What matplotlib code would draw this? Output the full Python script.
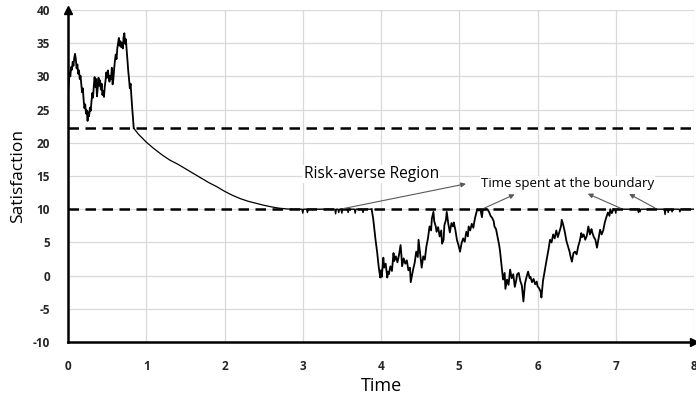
import matplotlib
matplotlib.use("Agg")
import matplotlib.pyplot as plt

plt.rcParams['font.family'] = ['Open Sans', 'DejaVu Sans']
plt.rcParams['axes.unicode_minus'] = False

# ---- data: segment 1 (random phase above upper boundary) ----
t_a = [0.00, 0.01, 0.02, 0.03, 0.04, 0.05, 0.06, 0.07, 0.08, 0.09,
       0.10, 0.11, 0.12, 0.13, 0.14, 0.15, 0.16, 0.17, 0.18, 0.19,
       0.20, 0.21, 0.22, 0.23, 0.24, 0.25, 0.26, 0.27, 0.28, 0.29,
       0.30, 0.31, 0.32, 0.33, 0.34, 0.35, 0.36, 0.37, 0.38, 0.39,
       0.40, 0.41, 0.42, 0.43, 0.44, 0.45, 0.46, 0.47, 0.48, 0.49,
       0.50, 0.51, 0.52, 0.53, 0.54, 0.55, 0.56, 0.57, 0.58, 0.59,
       0.60, 0.61, 0.62, 0.63, 0.64, 0.65, 0.66, 0.67, 0.68, 0.69,
       0.70, 0.71, 0.72, 0.73, 0.74, 0.75, 0.76, 0.77, 0.78, 0.79,
       0.80, 0.81, 0.82, 0.83, 0.84]
s_a = [27.5, 29.0, 30.6, 30.0, 31.4, 31.0, 32.2, 31.6, 32.8, 33.4,
       32.6, 31.2, 31.8, 30.4, 30.9, 29.6, 30.1, 28.8, 27.6, 28.2,
       26.4, 25.2, 25.8, 24.4, 24.9, 23.3, 24.6, 24.0, 25.3, 24.8,
       26.2, 27.5, 26.8, 28.6, 29.9, 28.4, 29.6, 27.0, 28.3, 29.8,
       28.6, 29.4, 28.0, 28.9, 27.2, 27.8, 26.9, 28.5, 29.4, 30.6,
       29.8, 30.9, 30.0, 29.2, 30.1, 29.6, 31.3, 28.8, 29.6, 31.2,
       32.4, 33.3, 32.6, 34.2, 35.0, 35.8, 34.6, 35.3, 34.4, 35.0,
       34.2, 35.9, 36.5, 34.9, 35.6, 33.9, 32.4, 30.8, 29.6, 28.2,
       28.9, 27.0, 25.3, 23.8, 22.2]

# ---- segment 2 (smooth decline towards lower boundary) ----
t_b = [0.84, 0.9, 1.0, 1.1, 1.2, 1.3, 1.4, 1.5, 1.6, 1.7, 1.8, 1.9, 2.0,
       2.1, 2.2, 2.3, 2.4, 2.5, 2.6, 2.7, 2.8, 2.85]
s_b = [22.2, 21.3, 20.1, 19.1, 18.2, 17.4, 16.8, 16.1, 15.4, 14.7, 14.0, 13.4, 12.7,
       12.1, 11.6, 11.2, 10.9, 10.6, 10.35, 10.15, 10.04, 10.0]

# ---- segment 3 (at the boundary with small excursions) ----
t_c = [2.85, 2.99, 3.00, 3.01, 3.05, 3.06, 3.07, 3.41, 3.42, 3.43, 3.45, 3.46, 3.47,
       3.49, 3.50, 3.51, 3.57, 3.58, 3.59, 3.66, 3.67, 3.68, 3.76, 3.77, 3.78, 3.88]
s_c = [10.0, 10.0, 9.4, 10.0, 10.0, 9.5, 10.0, 10.0, 9.3, 10.0, 10.0, 9.5, 10.0,
       10.0, 9.4, 10.0, 10.0, 9.5, 10.0, 10.0, 9.4, 10.0, 10.0, 9.5, 10.0, 10.0]

# ---- segment 4 (random phase below the boundary) ----
t_d = [3.88, 3.90, 3.92, 3.93, 3.95, 3.97, 3.98, 3.99, 4.00, 4.01, 4.03,
       4.04, 4.06, 4.08, 4.09, 4.10, 4.12, 4.14, 4.16, 4.17, 4.19,
       4.21, 4.23, 4.25, 4.26, 4.27, 4.29, 4.31, 4.33, 4.35, 4.37,
       4.38, 4.40, 4.41, 4.43, 4.45, 4.47, 4.48, 4.50, 4.51, 4.52,
       4.54, 4.56, 4.58, 4.60, 4.62, 4.64, 4.65, 4.67, 4.68, 4.70,
       4.71, 4.73, 4.75, 4.77, 4.78, 4.80, 4.81, 4.83, 4.84, 4.86,
       4.88, 4.90, 4.92, 4.93, 4.95, 4.97, 4.99, 5.01, 5.03, 5.05,
       5.07, 5.09, 5.11, 5.12, 5.14, 5.16, 5.18, 5.20, 5.22, 5.23,
       5.25, 5.27, 5.29, 5.30, 5.32, 5.34, 5.36, 5.38, 5.40, 5.42,
       5.44, 5.45, 5.47, 5.49, 5.51, 5.52, 5.54, 5.56, 5.58, 5.59,
       5.61, 5.63, 5.65, 5.67, 5.69, 5.71, 5.73, 5.74, 5.76, 5.78,
       5.80, 5.82, 5.84, 5.86, 5.88, 5.90, 5.91, 5.93, 5.95, 5.97,
       5.99, 6.00, 6.02, 6.04, 6.05, 6.07, 6.09, 6.10, 6.12, 6.14,
       6.16, 6.18, 6.20, 6.22, 6.24, 6.26, 6.28, 6.30, 6.31, 6.33,
       6.35, 6.37, 6.39, 6.41, 6.42, 6.44, 6.46, 6.48, 6.50, 6.52,
       6.54, 6.56, 6.57, 6.59, 6.61, 6.63, 6.65, 6.67, 6.69, 6.70,
       6.72, 6.74, 6.76, 6.78, 6.80, 6.82, 6.84, 6.86, 6.88, 6.90,
       6.92, 6.93, 6.95, 6.97]
s_d = [10.0, 8.6, 6.4, 5.4, 3.6, 1.4, 0.6, -0.3, 0.8, -0.2, 2.7,
       1.2, 1.8, -0.3, 0.6, 0.2, 1.4, 0.7, 3.4, 2.2, 2.9,
       2.0, 3.1, 4.6, 3.2, 1.4, 2.6, 1.8, 2.3, 0.8, 1.2,
       -1.0, 0.3, 0.9, 1.9, 3.6, 2.8, 5.4, 3.3, 2.2, 1.2,
       2.9, 2.4, 4.4, 5.6, 7.4, 6.8, 8.6, 9.6, 8.2, 7.4,
       6.6, 7.3, 5.9, 6.8, 4.8, 5.4, 7.6, 8.4, 9.6, 7.8,
       6.5, 7.9, 7.4, 8.0, 6.9, 5.4, 4.6, 3.6, 4.9, 5.6,
       5.1, 6.6, 5.9, 7.4, 6.8, 7.8, 7.2, 8.6, 9.5, 10.0,
       9.8, 10.0, 8.8, 9.9, 10.0, 10.0, 10.0, 9.6, 9.0, 8.7,
       8.2, 7.4, 7.0, 5.8, 4.6, 3.8, 1.6, -0.6, 0.4, -2.0,
       -0.6, -1.4, 0.9, -0.4, 0.2, -1.7, -0.6, 0.2, 0.4, -0.8,
       -1.5, -3.9, -1.2, -0.2, 0.6, -0.4, -0.2, -1.0, -0.5, -1.3,
       -0.9, -1.6, -1.9, -2.4, -3.3, -0.8, 0.6, 1.4, 2.6, 3.9,
       5.4, 5.0, 6.2, 5.6, 6.8, 5.8, 6.6, 7.4, 8.4, 7.6,
       6.5, 5.2, 4.4, 3.6, 3.0, 2.1, 3.4, 3.6, 3.2, 4.4,
       5.2, 6.4, 5.8, 6.2, 5.4, 6.0, 7.4, 6.2, 7.0, 6.5,
       5.8, 5.4, 4.2, 5.6, 6.9, 6.2, 6.8, 8.0, 8.8, 9.5,
       9.0, 10.0, 9.4, 10.0]

# ---- segment 5 (back at the boundary) ----
t_e = [6.97, 6.99, 7.00, 7.01, 7.28, 7.29, 7.30, 7.31, 7.32, 7.62, 7.63, 7.64,
       7.66, 7.67, 7.68, 7.71, 7.72, 7.73, 7.81, 7.82, 7.83, 8.00]
s_e = [10.0, 10.0, 9.4, 10.0, 10.0, 9.5, 10.0, 9.6, 10.0, 10.0, 9.2, 10.0,
       10.0, 9.5, 10.0, 10.0, 9.6, 10.0, 10.0, 9.6, 10.0, 10.0]

upper_boundary = 22.2
lower_boundary = 10.0

x_ticks = [0, 1, 2, 3, 4, 5, 6, 7, 8]
y_ticks = [-10, -5, 0, 5, 10, 15, 20, 25, 30, 35, 40]

# ---- figure ----
fig = plt.figure(figsize=(6.96, 3.96), dpi=100)
ax = fig.add_axes([68 / 696, 1 - 342 / 396, (694 - 68) / 696, (342 - 10) / 396])

ax.set_xlim(0, 8)
ax.set_ylim(-10, 40)
ax.set_xticks(x_ticks)
ax.set_yticks(y_ticks)
ax.grid(True, color='#d9d9d9', linewidth=0.9)
ax.set_axisbelow(True)

for tt, ss, lw in ((t_a, s_a, 1.3), (t_b, s_b, 0.9), (t_c, s_c, 1.0),
                   (t_d, s_d, 1.3), (t_e, s_e, 1.0)):
    ax.plot(tt, ss, color='black', linewidth=lw, zorder=3)

for yb in (upper_boundary, lower_boundary):
    ax.plot([0, 8], [yb, yb], color='black', linewidth=1.8, dashes=(4.2, 2.6), zorder=4)

for side in ('top', 'right'):
    ax.spines[side].set_visible(False)
for side in ('left', 'bottom'):
    ax.spines[side].set_linewidth(1.8)
    ax.spines[side].set_color('black')
    ax.spines[side].set_zorder(5)

# axis arrows
ax.plot(0, 1, marker='^', color='black', markersize=6, transform=ax.transAxes, clip_on=False, zorder=6)
ax.plot(1, 0, marker='>', color='black', markersize=6, transform=ax.transAxes, clip_on=False, zorder=6)

ax.tick_params(length=0, pad=13)
for lab in ax.get_xticklabels() + ax.get_yticklabels():
    lab.set_fontsize(8.5)
    lab.set_fontweight('bold')
    lab.set_color('#262626')

ax.set_xlabel('Time', fontsize=13, labelpad=3)
ax.set_ylabel('Satisfaction', fontsize=12.5, labelpad=5)

# annotations
ax.text(3.01, 15.3, 'Risk-averse Region', fontsize=11.2, ha='left', va='center',
        bbox=dict(facecolor='white', edgecolor='none', pad=1), zorder=4)
ax.text(6.38, 13.9, 'Time spent at the boundary', fontsize=9.6, ha='center', va='center',
        bbox=dict(facecolor='white', edgecolor='none', pad=0.5), zorder=4)

arrow_kw = dict(arrowstyle='-|>', color='#595959', lw=0.8, mutation_scale=7)
ax.annotate('', xy=(5.12, 13.9), xytext=(3.48, 10.0), arrowprops=arrow_kw, zorder=6)
ax.annotate('', xy=(5.74, 12.4), xytext=(5.29, 10.0), arrowprops=arrow_kw, zorder=6)
ax.annotate('', xy=(6.61, 12.5), xytext=(7.09, 10.0), arrowprops=arrow_kw, zorder=6)
ax.annotate('', xy=(7.14, 12.5), xytext=(7.53, 10.0), arrowprops=arrow_kw, zorder=6)

fig.savefig('out.png', dpi=100)
